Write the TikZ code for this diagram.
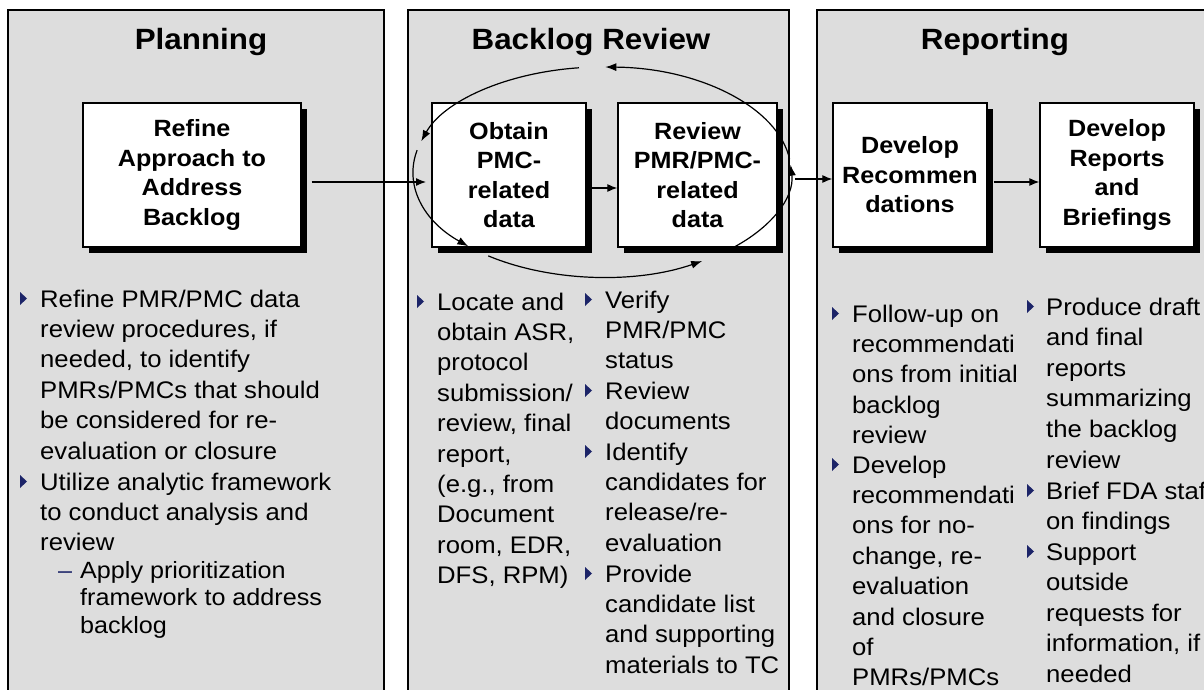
\documentclass[tikz,border=0pt]{standalone}
\usepackage{fontspec}
\setmainfont{Liberation Sans}[FakeStretch=1.07]
\usetikzlibrary{arrows.meta,calc,shadows}
\definecolor{panelgray}{RGB}{221,221,221}
\definecolor{navy}{RGB}{28,36,104}
\newcommand\blines[1]{\begin{tabular}[t]{@{}l@{}}#1\end{tabular}}
\tikzset{
  panel/.style={draw=black,line width=1.5pt,fill=panelgray},
  stepbox/.style={draw=black,line width=1.3pt,fill=white,align=center,inner sep=0pt,
    font=\bfseries\fontsize{23.5}{29.5}\selectfont,
    general shadow={fill=black,shadow xshift=6pt,shadow yshift=-6pt}},
  paneltitle/.style={font=\bfseries\fontsize{29.3}{34}\selectfont,anchor=base,inner sep=0pt},
  btxt/.style={font=\fontsize{24}{30.4}\selectfont,anchor=base west,inner sep=0pt},
  btxtb/.style={font=\fontsize{24}{30.6}\selectfont,anchor=base west,inner sep=0pt},
  subtxt/.style={font=\fontsize{23.5}{27.5}\selectfont,anchor=base west,inner sep=0pt},
  conn/.style={line width=1.2pt,-{Latex[length=10pt,width=8pt]}},
  loopline/.style={line width=1.2pt,-{Latex[length=11pt,width=8pt]}},
  tri/.pic={\fill[navy] (0,-6.5) -- (7,0) -- (0,6.5) -- cycle;}
}
\begin{document}
\begin{tikzpicture}[x=1pt,y=-1pt]
\useasboundingbox (0,0) rectangle (1204,690);
\clip (0,0) rectangle (1204,690);
\fill[white] (0,0) rectangle (1204,690);
% panels
\draw[panel] (8,10) rectangle (384,700);
\draw[panel] (408,10) rectangle (789,700);
\draw[panel] (817,10) rectangle (1220,700);
\node[paneltitle] (tP) at (201,50) {Planning};
\node[paneltitle] (tB) at (591,50) {Backlog Review};
\node[paneltitle] (tR) at (995,50) {Reporting};
% step boxes
\node[stepbox,minimum width=218pt,minimum height=144pt] (R1) at (192,175) {Refine\\Approach to\\Address\\Backlog};
\node[stepbox,minimum width=154pt,minimum height=144pt] (B1) at (509,175) {Obtain\\PMC-\\related\\data};
\node[stepbox,minimum width=159pt,minimum height=144pt] (B2) at (697.5,175) {Review\\PMR/PMC-\\related\\data};
\node[stepbox,minimum width=154pt,minimum height=144pt] (D1) at (910,175) {Develop\\Recommen\\dations};
\node[stepbox,minimum width=154pt,minimum height=144pt] (D2) at (1117,175) {Develop\\Reports\\and\\Briefings};
% review loop
\coordinate (E) at (602,172);
\draw[loopline] ($(E)+(-97:189 and 105)$) arc[start angle=-97,end angle=-163,x radius=189,y radius=105];
\draw[loopline] ($(E)+(-168:189 and 105)$) arc[start angle=-168,end angle=-225,x radius=189,y radius=105];
\draw[loopline] ($(E)+(-233:189 and 105)$) arc[start angle=-233,end angle=-302,x radius=189,y radius=105];
\draw[loopline] ($(E)+(-311:189 and 105)$) arc[start angle=-311,end angle=-364,x radius=189,y radius=105];
\draw[loopline] ($(E)+(-367:189 and 105)$) arc[start angle=-367,end angle=-449,x radius=189,y radius=105];
\coordinate (loopW) at (426,182);
\coordinate (loopE) at (795,179);
% connectors
\draw[conn] ($(R1.east)+(10,7)$) -- (loopW);
\draw[conn] ($(B1.east)+(0,13)$) -- ($(B2.west)+(0,13)$);
\draw[conn] (loopE) -- ($(D1.west)+(0,4)$);
\draw[conn] ($(D1.east)+(6,7)$) -- ($(D2.west)+(0,7)$);
% Planning bullets
\pic at (20,298.5) {tri};
\node[btxt] (p1) at (40,307) {\blines{Refine PMR/PMC data\\review procedures, if\\needed, to identify\\PMRs/PMCs that should\\be considered for re-\\evaluation or closure}};
\pic at (20,481.5) {tri};
\node[btxt] (p2) at (40,490) {\blines{Utilize analytic framework\\to conduct analysis and\\review}};
\node[subtxt,text=navy] (p3d) at (58,578) {–};
\node[subtxt] (p3) at (80,578) {\blines{Apply prioritization\\framework to address\\backlog}};
% Backlog Review bullets
\pic at (417,301.5) {tri};
\node[btxt] (b1) at (437,310) {\blines{Locate and\\obtain ASR,\\protocol\\submission/\\review, final\\report,\\(e.g., from\\Document\\room, EDR,\\DFS, RPM)}};
\pic at (585,299.5) {tri};
\node[btxt] (b2) at (605,308) {\blines{Verify\\PMR/PMC\\status}};
\pic at (585,390.5) {tri};
\node[btxt] (b3) at (605,399) {\blines{Review\\documents}};
\pic at (585,451.5) {tri};
\node[btxt] (b4) at (605,460) {\blines{Identify\\candidates for\\release/re-\\evaluation}};
\pic at (585,573.5) {tri};
\node[btxt] (b5) at (605,582) {\blines{Provide\\candidate list\\and supporting\\materials to TC}};
% Reporting bullets
\pic at (832,313.5) {tri};
\node[btxt] (r1) at (852,322) {\blines{Follow-up on\\recommendati\\ons from initial\\backlog\\review}};
\pic at (832,464.5) {tri};
\node[btxt] (r2) at (852,473) {\blines{Develop\\recommendati\\ons for no-\\change, re-\\evaluation\\and closure\\of\\PMRs/PMCs}};
\pic at (1027,306.5) {tri};
\node[btxtb] (r3) at (1046,315) {\blines{Produce draft\\and final\\reports\\summarizing\\the backlog\\review}};
\pic at (1027,490.5) {tri};
\node[btxtb] (r4) at (1046,499) {\blines{Brief FDA staff\\on findings}};
\pic at (1027,551.5) {tri};
\node[btxtb] (r5) at (1046,560) {\blines{Support\\outside\\requests for\\information, if\\needed}};
\end{tikzpicture}
\end{document}
